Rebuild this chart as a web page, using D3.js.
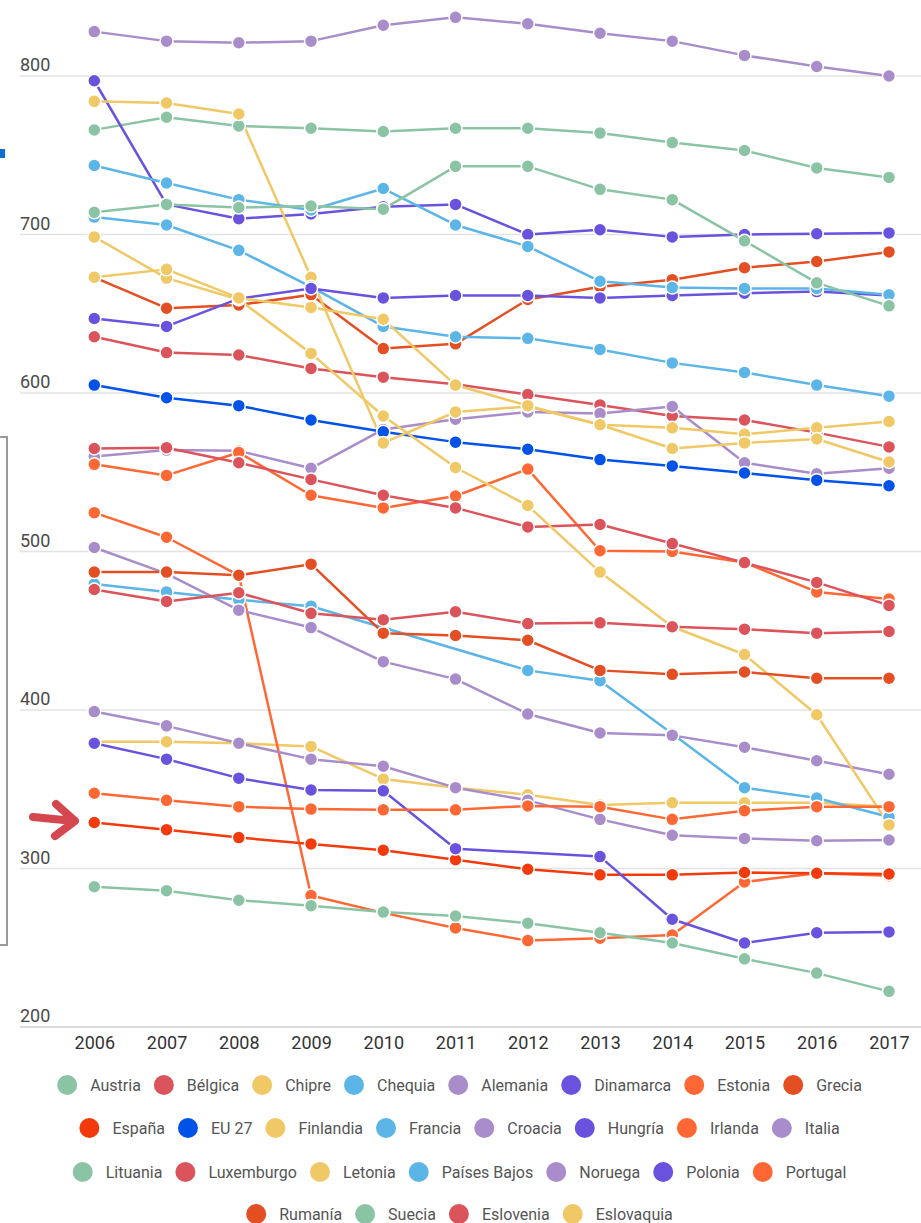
<!DOCTYPE html>
<html>
<head>
<meta charset="utf-8">
<script src="https://cdn.jsdelivr.net/npm/d3@7"></script>
<style>
  html, body { margin: 0; padding: 0; background: #fff; }
  svg { display: block; font-family: Roboto, "Noto Sans", Arial, sans-serif; }
</style>
</head>
<body>
<svg id="chart" width="921" height="1223"></svg>
<script>
// ---------- DATA ----------
const years = ["2006","2007","2008","2009","2010","2011","2012","2013","2014","2015","2016","2017"];
const yTicks = [200, 300, 400, 500, 600, 700, 800];

const austria     = [766, 774, 768.5, 767, 765, 767, 767, 764, 758, 753, 742, 736];
const belgica     = [635.5, 625.5, 624, 615.5, 610, 605.5, 599, 592.5, 585.5, 583, 575, 566];
const chipre      = [380, 380, 379, 377, 356.5, 351, 346.5, 340, 341.5, 341.5, 341.5, 339];
const chequia     = [479.5, 474.5, 469.5, 465.5, null, null, 425, 418.5, 385, 351, 344.5, 332.5];
const alemania    = [560, 564, 563.5, 552.5, 577, 583.5, 588, 587, 591.5, 556, 549, 552.5];
const dinamarca   = [797, 719, 710, 713, 717.5, 719, 700, 703, 698.5, 700, 700.5, 701];
const estonia     = [524.5, 509, 485, 283, 272, 262.5, 254.5, 256, 258, 291.5, 297, 295.5];
const grecia      = [673, 653.5, 655.5, 662, 628, 631, 659, 667, 671.5, 679, 683, 689];
const espana      = [329, 324.5, 319.5, 315.5, 311.5, 305.5, 299.5, 296, 296, 297.5, 297, 296.5];
const eu27        = [605, 597, 592, 583, 575.5, 569, 564.5, 558, 554, 549.5, 545, 541.5];
const finlandia   = [784, 783, 776, 673, 568.5, 588, 591.5, 580, 578, 574, 578, 582];
const francia     = [711, 706, 690, 667, 642, 635.5, 634.5, 627.5, 619, 613, 605, 598];
const croacia     = [399, 390, 379, 369, 364.5, 351, 343, 331, 321, 319, 317.5, 318];
const hungria     = [647, 642, 659.5, 666, 660, 661.5, 661.5, 660, 661.5, 663, 664, 661.5];
const irlanda     = [555, 548, 562.5, 535.5, 527.5, 535, 552, 500.5, 500, 493, 474.5, 470];
const italia      = [502.5, 486, 463, 452, 430.5, 419.5, 397.5, 385.5, 384, 376.5, 368, 359.5];
const lituania    = [288.5, 286, 280, 276.5, 272.5, 270, 265.5, 259.5, 253, 243, 234, 222.5];
const luxemburgo  = [565, 565.5, 556, 545.5, 535.5, 527.5, 515.5, 517, 505, 493, 480.5, 466];
const letonia     = [698.5, 672.5, 659, 625, 585.5, 553, 529, 487, 452.5, 435, 397, 327.5];
const paisesBajos = [743.5, 732.5, 722, 715.5, 729, 706, 692.5, 670.5, 666.5, 666, 666, 662];
const noruega     = [828, 822, 821, 822, 832, 837, 833, 827, 822, 813, 806, 800];
const polonia     = [379, 369, 357, 349.5, 349, 312.5, null, 307.5, 268, 253, 259.5, 260];
const portugal    = [347.5, 343, 339, 337.5, 337, 337, 339.5, 339, 331, 336.5, 339, 339];
const rumania     = [487, 487, 485, 492, 448.5, 447, 444, 425, 422.5, 424, 420, 420];
const suecia      = [714, 719, 717, 718, 716, 743, 743, 728.5, 722, 696, 669.5, 655];
const eslovenia   = [476, 468.5, 474, 461, 457, 462, 454.5, 455, 452.5, 451, 448.5, 449.5];
const eslovaquia  = [673, 678, 660, 654, 646.5, 605, 592, 580, 565, 568.5, 571, 556.5];

const seriesNames = ["Austria","Bélgica","Chipre","Chequia","Alemania","Dinamarca","Estonia","Grecia",
  "España","EU 27","Finlandia","Francia","Croacia","Hungría","Irlanda","Italia",
  "Lituania","Luxemburgo","Letonia","Países Bajos","Noruega","Polonia","Portugal",
  "Rumanía","Suecia","Eslovenia","Eslovaquia"];
const seriesValues = [austria, belgica, chipre, chequia, alemania, dinamarca, estonia, grecia,
  espana, eu27, finlandia, francia, croacia, hungria, irlanda, italia,
  lituania, luxemburgo, letonia, paisesBajos, noruega, polonia, portugal,
  rumania, suecia, eslovenia, eslovaquia];

// ---------- STYLE ----------
const C = {
  green: "#8bc4a4", red: "#dc545b", yellow: "#f0c865", lblue: "#5bb5e6",
  lav: "#a98dcb", purple: "#6a52df", orange: "#ff6835", dorange: "#e34f22",
  spain: "#f23a0c", eu: "#0052e8"
};
const seriesColors = [C.green, C.red, C.yellow, C.lblue, C.lav, C.purple, C.orange, C.dorange,
  C.spain, C.eu, C.yellow, C.lblue, C.lav, C.purple, C.orange, C.lav,
  C.green, C.red, C.yellow, C.lblue, C.lav, C.purple, C.orange,
  C.dorange, C.green, C.red, C.yellow];

const svg = d3.select("#chart");
const x = d3.scalePoint().domain(years).range([94.3, 889]);
const y = d3.scaleLinear().domain([200, 800]).range([1027, 76]);

// gridlines
const grid = svg.append("g");
grid.selectAll("line").data(yTicks).join("line")
  .attr("x1", 20).attr("x2", 921)
  .attr("y1", d => y(d)).attr("y2", d => y(d))
  .attr("stroke", d => d === 200 ? "#cfcfcf" : "#e3e3e3").attr("stroke-width", 1.5);
grid.selectAll("text").data(yTicks).join("text")
  .attr("x", 20).attr("y", d => y(d) - 5)
  .attr("font-size", 18).attr("fill", "#4a4a4a")
  .text(d => d);

// x axis labels
const xa = svg.append("g").attr("transform", "translate(0,1026)")
  .call(d3.axisBottom(x).tickSize(0).tickPadding(6));
xa.select(".domain").remove();
xa.selectAll("text").attr("font-size", 18).attr("fill", "#333")
  .attr("font-family", "Roboto, sans-serif").attr("dy", "0.95em");

// series
const series = seriesNames.map((n, i) => ({
  name: n, color: seriesColors[i],
  pts: years.map((yr, j) => ({ yr, v: seriesValues[i][j] })).filter(p => p.v !== null)
}));
const line = d3.line().x(p => x(p.yr)).y(p => y(p.v));
svg.append("g").selectAll("path").data(series).join("path")
  .attr("d", s => line(s.pts)).attr("fill", "none")
  .attr("stroke", s => s.color).attr("stroke-width", 2.5)
  .attr("stroke-linejoin", "round");
const dots = svg.append("g");
series.forEach(s => {
  dots.append("g").selectAll("circle").data(s.pts).join("circle")
    .attr("cx", p => x(p.yr)).attr("cy", p => y(p.v)).attr("r", 6.5)
    .attr("fill", s.color).attr("stroke", "#fff").attr("stroke-width", 1.5);
});

// legend
const rows = [seriesNames.slice(0, 8), seriesNames.slice(8, 16), seriesNames.slice(16, 23), seriesNames.slice(23)];
const rowY = [1085, 1128, 1172, 1214];
const leg = svg.append("g");
rows.forEach((row, r) => {
  const g = leg.append("g");
  let cx = 0;
  row.forEach(name => {
    const color = seriesColors[seriesNames.indexOf(name)];
    g.append("circle").attr("cx", cx).attr("cy", rowY[r]).attr("r", 10).attr("fill", color);
    const t = g.append("text").attr("x", cx + 23).attr("y", rowY[r]).attr("dy", "0.35em")
      .attr("font-size", 16).attr("fill", "#555").text(name);
    cx += 23 + t.node().getComputedTextLength() + 23;
  });
  const bb = g.node().getBBox();
  g.attr("transform", `translate(${459.5 - (bb.x + bb.width / 2)},0)`);
});

// left decorations: partial box, small blue marker, red arrow
svg.append("rect").attr("x", -10).attr("y", 437).attr("width", 17).attr("height", 508)
  .attr("fill", "none").attr("stroke", "#9a9a9a").attr("stroke-width", 2);
svg.append("rect").attr("x", 0).attr("y", 149).attr("width", 5).attr("height", 9).attr("fill", "#0b6fd6");
svg.append("path")
  .attr("d", "M33,817 L74,821 M56,804 L75,821 L55,836")
  .attr("fill", "none").attr("stroke", "#d4474f").attr("stroke-width", 8)
  .attr("stroke-linecap", "round").attr("stroke-linejoin", "round");
</script>
</body>
</html>
